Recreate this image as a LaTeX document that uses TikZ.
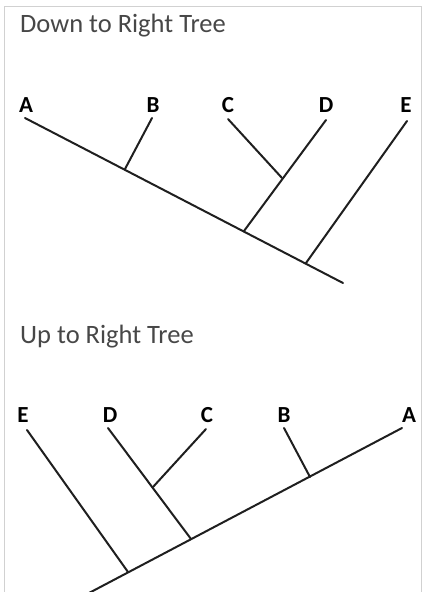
\documentclass[tikz,border=0pt]{standalone}
\usepackage{fontspec}
\setmainfont{Carlito}
\usetikzlibrary{positioning, calc}

\begin{document}
\begin{tikzpicture}[
    x=1pt, y=-1pt,
    title/.style = {anchor=base west, inner sep=0pt, text=black!72, font=\fontsize{26.5}{30}\selectfont},
    leaf/.style = {inner sep=0pt, font=\fontsize{23}{26}\selectfont\bfseries},
    branch/.style = {draw=black!88, line width=2pt, line cap=round}
]
    \useasboundingbox (0,0) rectangle (425,592);
    \draw [black!18, line width=1pt] (4,600) -- (4,6) -- (421,6) -- (421,600);

    % down to right tree
    \node [title] (titleDown) at (20,32) {Down to Right Tree};
    \node [leaf] (dA) at (26,105) {A};
    \node [leaf] (dB) at (153,105) {B};
    \node [leaf] (dC) at (228,105) {C};
    \node [leaf] (dD) at (326,105) {D};
    \node [leaf] (dE) at (406,105) {E};
    \coordinate (dA1) at (25,118);
    \coordinate (dB1) at (152,118);
    \coordinate (dC1) at (228,119);
    \coordinate (dD1) at (326,120);
    \coordinate (dE1) at (407,121);
    \coordinate (dJB) at (125,169);
    \coordinate (dJCD) at (282,178);
    \coordinate (dJD) at (244,231);
    \coordinate (dJE) at (306,263);
    \coordinate (dRoot) at (343,283);

    \draw [branch] (dA1) -- (dRoot);
    \draw [branch] (dB1) -- (dJB);
    \draw [branch] (dC1) -- (dJCD);
    \draw [branch] (dD1) -- (dJD);
    \draw [branch] (dE1) -- (dJE);

    % up to right tree
    \node [title] (titleUp) at (20,343) {Up to Right Tree};
    \node [leaf] (uE) at (23,415) {E};
    \node [leaf] (uD) at (110,415) {D};
    \node [leaf] (uC) at (207,415) {C};
    \node [leaf] (uB) at (284,415) {B};
    \node [leaf] (uA) at (409,415) {A};
    \coordinate (uE1) at (27,430);
    \coordinate (uD1) at (108,428);
    \coordinate (uC1) at (206,429);
    \coordinate (uB1) at (284,428);
    \coordinate (uA1) at (402,428);
    \coordinate (uJE) at (128,572);
    \coordinate (uJD) at (191,539);
    \coordinate (uJDC) at (153,487);
    \coordinate (uJB) at (310,477);
    \coordinate (uRoot) at (89,593);

    \draw [branch] (uA1) -- (uRoot);
    \draw [branch] (uB1) -- (uJB);
    \draw [branch] (uC1) -- (uJDC);
    \draw [branch] (uD1) -- (uJD);
    \draw [branch] (uE1) -- (uJE);
\end{tikzpicture}
\end{document}
